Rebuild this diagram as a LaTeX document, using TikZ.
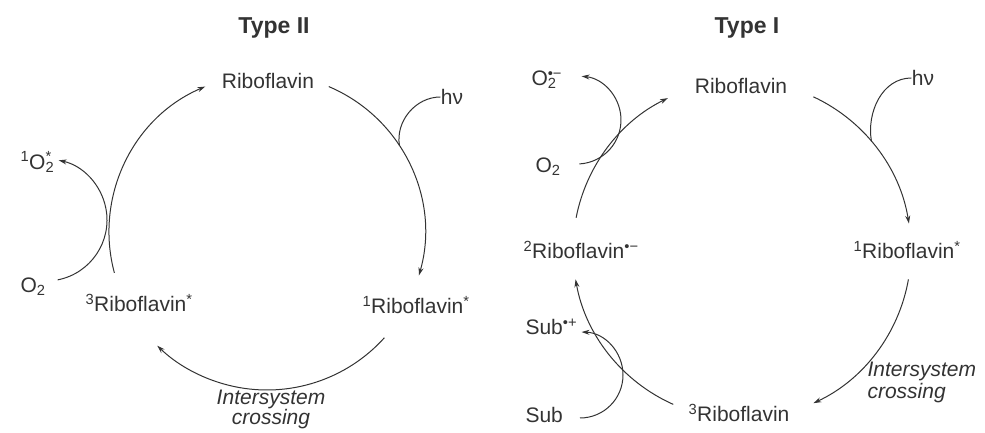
\documentclass[tikz,border=0pt]{standalone}
\usepackage{fontspec}
\setmainfont{Liberation Sans}
\usetikzlibrary{calc}
\usetikzlibrary{arrows.meta}
\definecolor{ink}{HTML}{333333}
\newcommand{\cyc}[4] % centre, radius, start angle, end angle
{
	\draw[->] ($(#1)+(#3:#2)$) arc[start angle=#3, end angle=#4, radius=#2];
}
\newcommand{\supsub}[2]{\rlap{\textsuperscript{#1}}\textsubscript{#2}} % sup over sub

\begin{document}
\begin{tikzpicture}[x=1pt, y=1pt, color=ink, line width=1pt, >={Stealth[length=8pt,width=5pt]},
	every node/.style={font=\fontsize{21}{24}\selectfont, inner sep=0pt}]
	\useasboundingbox (0,0) rectangle (985,433);
	% type II (left)
	\coordinate (cL) at (267,201);
	\coordinate (cO2L) at (46,213);
	\node[font=\fontsize{23}{26}\selectfont\bfseries] (title2) at (274,405) {Type II};
	\node (ribL) at (268,352) {Riboflavin};
	\node (hvL) at (452,336) {hν};
	\node[anchor=west] (sO2L) at (20,271) {\textsuperscript{1}O\supsub{*}{2}};
	\node[anchor=west] (o2L) at (20,146) {O\textsubscript{2}};
	\node[anchor=west] (rib3L) at (85,130) {\textsuperscript{3}Riboflavin\textsuperscript{*}};
	\node[anchor=west] (rib1L) at (362,128) {\textsuperscript{1}Riboflavin\textsuperscript{*}};
	\node[align=center, font=\fontsize{21}{20}\selectfont\itshape] (iscL) at (271,24) {Intersystem\\crossing};
	\cyc{cL}{158}{67}{-16};
	\cyc{cL}{158}{-42}{-134};
	\cyc{cL}{158}{195}{113};
	\cyc{cO2L}{61}{-79}{78};
	\draw (hvL.west) to[out=180, in=100] ($(cL)+(33:158)$);
	
	% type I (right)
	\coordinate (cR) at (742,183);
	\coordinate (cO2R) at (577,313);
	\coordinate (cSub) at (580,58);
	\node[font=\fontsize{23}{26}\selectfont\bfseries] (title1) at (747,405) {Type I};
	\node (ribR) at (741,347) {Riboflavin};
	\node (hvR) at (923,355) {hν};
	\node[anchor=west] (supR) at (531,353) {O\supsub{•−}{2}};
	\node[anchor=west] (o2R) at (535,266) {O\textsubscript{2}};
	\node[anchor=west] (rib2R) at (523,183) {\textsuperscript{2}Riboflavin\textsuperscript{•−}};
	\node[anchor=west] (rib1R) at (853,183) {\textsuperscript{1}Riboflavin\textsuperscript{*}};
	\node[anchor=west] (subpR) at (525,106) {Sub\textsuperscript{•+}};
	\node[anchor=west] (subR) at (525,18) {Sub};
	\node[anchor=west] (rib3R) at (688,20) {\textsuperscript{3}Riboflavin};
	\node[anchor=west, align=left, font=\fontsize{21}{22}\selectfont\itshape] (iscR) at (867,51) {Intersystem\\crossing};
	\cyc{cR}{169}{65}{9};
	\cyc{cR}{169}{-10}{-65};
	\cyc{cR}{169}{246}{190};
	\cyc{cR}{169}{169}{116};
	\cyc{cO2R}{44}{-87}{84};
	\cyc{cSub}{43}{-90}{88};
	\draw (hvR.west) to[out=180, in=100] ($(cR)+(40:169)$);
\end{tikzpicture}
\end{document}
